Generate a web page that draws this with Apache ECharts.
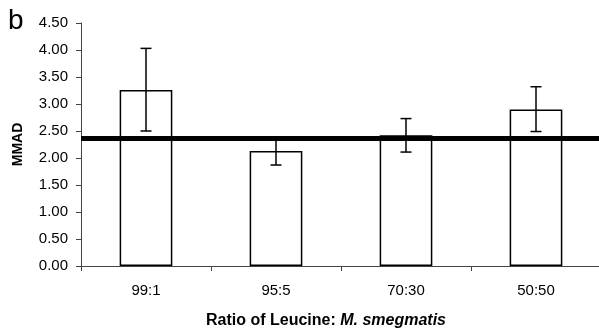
<!DOCTYPE html>
<html><head><meta charset="utf-8">
<script src="https://cdn.jsdelivr.net/npm/echarts@6/dist/echarts.min.js"></script>
<style>html,body{margin:0;padding:0;background:#fff}#c{width:599px;height:331px}</style>
</head><body><div id="c"></div>
<script>
const categories = ['99:1', '95:5', '70:30', '50:50'];
const mmad = [3.26, 2.13, 2.42, 2.90];
const errLow = [2.50, 1.87, 2.11, 2.49];
const errHigh = [4.03, 2.36, 2.73, 3.32];
const referenceLine = 2.36;
const yTicks = [0, 0.5, 1, 1.5, 2, 2.5, 3, 3.5, 4, 4.5];

const chart = echarts.init(document.getElementById('c'));
const font = 'Liberation Sans, Arial, sans-serif';
chart.setOption({
  animation: false,
  grid: { left: 81, right: -2, top: 23, bottom: 65, containLabel: false, outerBoundsMode: 'none' },
  graphic: [{ type: 'text', left: 8, top: 7, style: { text: 'b', font: '28px ' + font, fill: '#000' } }],
  xAxis: {
    type: 'category', data: categories,
    axisLine: { lineStyle: { color: '#444', width: 1 } },
    axisTick: { show: true, length: 5, lineStyle: { color: '#444' } },
    axisLabel: { color: '#000', fontSize: 15, fontFamily: font, margin: 17 },
    name: '{a|Ratio of Leucine: }{b|M. smegmatis}',
    nameLocation: 'middle', nameGap: 47,
    nameTextStyle: { padding: [0, 30, 0, 0], rich: {
      a: { fontWeight: 'bold', fontSize: 16, fontFamily: font, color: '#000' },
      b: { fontWeight: 'bold', fontStyle: 'italic', fontSize: 16, fontFamily: font, color: '#000' }
    } }
  },
  yAxis: {
    type: 'value', min: yTicks[0], max: yTicks[yTicks.length - 1], interval: 0.5,
    splitLine: { show: false },
    axisLine: { show: true, lineStyle: { color: '#444', width: 1 } },
    axisTick: { show: true, length: 5, lineStyle: { color: '#444' } },
    axisLabel: { color: '#000', fontSize: 15, fontFamily: font, margin: 13, formatter: v => v.toFixed(2) },
    name: 'MMAD', nameLocation: 'middle', nameGap: 56,
    nameTextStyle: { fontWeight: 'bold', fontSize: 14, fontFamily: font, color: '#000' }
  },
  series: [{
    type: 'bar', data: mmad, barWidth: '40.5%',
    itemStyle: { color: '#fff', borderColor: '#000', borderWidth: 1.5 },
    markLine: { silent: true, symbol: 'none', label: { show: false },
      lineStyle: { color: '#000', width: 5, type: 'solid' },
      data: [{ yAxis: referenceLine }] },
    z: 2
  }, {
    type: 'custom',
    data: categories.map((c, i) => [i, errLow[i], errHigh[i]]),
    renderItem: (params, api) => {
      const lo = api.coord([api.value(0), api.value(1)]);
      const hi = api.coord([api.value(0), api.value(2)]);
      const w = 5.5;
      const st = { stroke: '#000', lineWidth: 1.5 };
      return { type: 'group', children: [
        { type: 'line', shape: { x1: lo[0], y1: lo[1], x2: hi[0], y2: hi[1] }, style: st },
        { type: 'line', shape: { x1: lo[0] - w, y1: lo[1], x2: lo[0] + w, y2: lo[1] }, style: st },
        { type: 'line', shape: { x1: hi[0] - w, y1: hi[1], x2: hi[0] + w, y2: hi[1] }, style: st }
      ] };
    },
    z: 3
  }]
});
</script></body></html>
